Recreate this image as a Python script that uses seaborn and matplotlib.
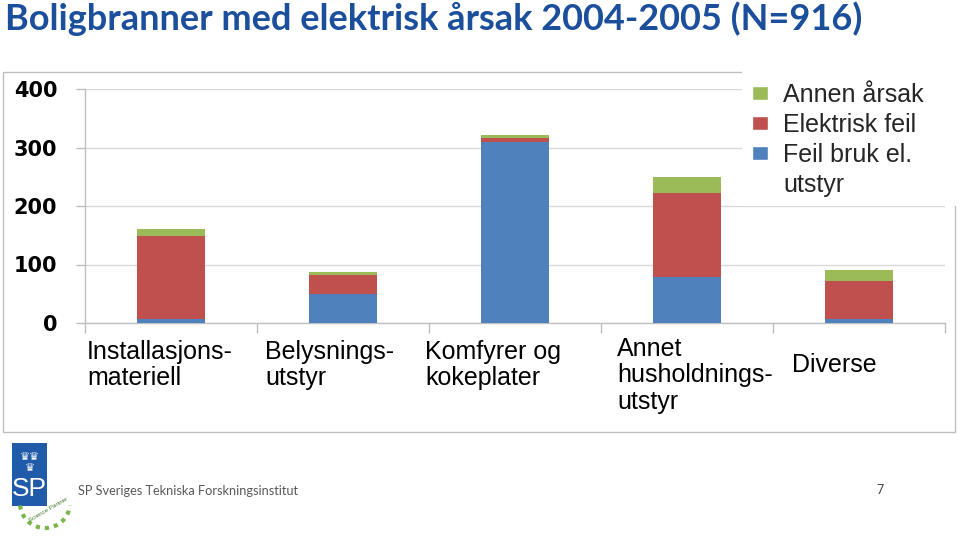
import numpy as np
import pandas as pd
import matplotlib
matplotlib.use("Agg")
import matplotlib.pyplot as plt
import seaborn as sns
from matplotlib.patches import Rectangle, Patch, Arc

# ---------------- data ----------------
categories = ["Installasjons-\nmateriell", "Belysnings-\nutstyr", "Komfyrer og\nkokeplater",
              "Annet\nhusholdnings-\nutstyr", "Diverse"]
feil_bruk = [6, 50, 310, 78, 7]          # Feil bruk el. utstyr
elektrisk_feil = [143, 32, 6, 144, 65]   # Elektrisk feil
annen_arsak = [11, 5, 6, 28, 18]         # Annen årsak
series_names = ["Feil bruk el. utstyr", "Elektrisk feil", "Annen årsak"]
legend_labels = ["Annen årsak", "Elektrisk feil", "Feil bruk el.", "utstyr"]
yticks = [0, 100, 200, 300, 400]
title = "Boligbranner med elektrisk årsak 2004-2005 (N=916)"

# ---------------- style ----------------
BLUE, RED, GREEN = "#4F81BD", "#C0504D", "#9BBB59"
GRID = "#D9D9D9"
AXC = "#BFBFBF"

sns.set_theme(style="white")
plt.rcParams["font.family"] = ["Liberation Sans", "DejaVu Sans"]

df = pd.DataFrame({"cat": categories,
                   series_names[0]: feil_bruk,
                   series_names[1]: elektrisk_feil,
                   series_names[2]: annen_arsak})
stack = df[series_names].cumsum(axis=1)

W, H = 960, 536
fig = plt.figure(figsize=(W / 100, H / 100), dpi=100)
ax = fig.add_axes([85 / W, 1 - 323 / H, 860 / W, 234 / H])

for name, color in zip(series_names[::-1], [GREEN, RED, BLUE]):
    sns.barplot(x=df["cat"], y=stack[name], color=color, width=0.4, ax=ax,
                saturation=1, linewidth=0, zorder=3)

ax.set_xlim(-0.5, len(categories) - 0.5)
ax.set_ylim(0, 400)
ax.set_yticks(yticks)
ax.set_yticklabels([str(t) for t in yticks], fontweight="bold",
                   family="DejaVu Sans", fontsize=15)
ax.set_xticks(range(len(categories)))
ax.set_xticklabels([])
ax.set_xticks(np.arange(-0.5, len(categories)), minor=True)
ax.tick_params(axis="x", which="major", length=0)
ax.tick_params(axis="x", which="minor", length=7.5, color=AXC, width=1, bottom=True)
ax.tick_params(axis="y", length=6.5, color=AXC, width=1, pad=13.5, left=True)
for lbl in ax.get_yticklabels():
    lbl.set_color("black")
ax.yaxis.grid(True, color=GRID, lw=1)
ax.xaxis.grid(False)
ax.set_axisbelow(True)
ax.set_xlabel("")
ax.set_ylabel("")
for s in ["top", "right"]:
    ax.spines[s].set_visible(False)
for s in ["left", "bottom"]:
    ax.spines[s].set_color(AXC)
    ax.spines[s].set_linewidth(1)

# category labels (layout offsets in pixels)
lab_dx = [-84, -78, -90, -70, -67]
lab_dy = [-17, -17, -17, -14, -30]
for i, lab in enumerate(categories):
    ax.annotate(lab, xy=(i, 0), xycoords=("data", "axes fraction"),
                xytext=(lab_dx[i], lab_dy[i]), textcoords="offset pixels",
                ha="left", va="top", fontsize=18, color="black",
                linespacing=1.13, annotation_clip=False)

# chart frame and legend background
fig.patches.append(Rectangle((3 / W, 1 - 432 / H), 952 / W, 360 / H, fill=False,
                             edgecolor=AXC, lw=1, transform=fig.transFigure, zorder=1))
fig.patches.append(Rectangle((742 / W, 1 - 206 / H), 216 / W, 138 / H, facecolor="white",
                             edgecolor="none", transform=fig.transFigure, zorder=2))

handles = [Patch(facecolor=GREEN), Patch(facecolor=RED), Patch(facecolor=BLUE),
           Patch(facecolor="none", edgecolor="none")]
fig.legend(handles, legend_labels, loc="upper left",
           bbox_to_anchor=(752 / W, 1 - 83 / H), frameon=False, fontsize=18,
           handlelength=0.65, handleheight=0.48, handletextpad=0.6,
           labelspacing=0.24, borderpad=0, borderaxespad=0)

# title
fig.text(5 / W, 1 - 19 / H, title, ha="left", va="center", fontsize=26,
         fontweight="bold", color="#1B4F9C", family="Lato")

# footer / logo
fig.patches.append(Rectangle((12 / W, 1 - 506 / H), 35 / W, 63 / H, facecolor="#1F5BA8",
                             edgecolor="none", transform=fig.transFigure, zorder=2))
fig.text(29.5 / W, 1 - 489 / H, "SP", ha="center", va="center", fontsize=19,
         color="white", family="Liberation Sans", zorder=3)
fig.text(29.5 / W, 1 - 457 / H, "♛♛", ha="center", va="center", fontsize=8,
         color="white", family="DejaVu Sans", zorder=3)
fig.text(29.5 / W, 1 - 468 / H, "♛", ha="center", va="center", fontsize=8,
         color="white", family="DejaVu Sans", zorder=3)
fig.patches.append(Arc((45 / W, 1 - 503 / H), 50 / W, 50 / H, theta1=190, theta2=350,
                       transform=fig.transFigure, color="#7AB648", lw=3,
                       linestyle=(0, (1, 1.2)), zorder=3))
fig.text(48 / W, 1 - 510 / H, "Science Partner", ha="center", va="center", fontsize=4.5,
         color="#4A7A2A", rotation=30, zorder=3)
fig.text(78 / W, 1 - 491 / H, "SP Sveriges Tekniska Forskningsinstitut", ha="left",
         va="center", fontsize=9.2, color="#595959", family="Lato")
fig.text(880 / W, 1 - 490 / H, "7", ha="center", va="center", fontsize=9,
         color="#404040", family="Lato")

fig.savefig("out.png", dpi=100)
